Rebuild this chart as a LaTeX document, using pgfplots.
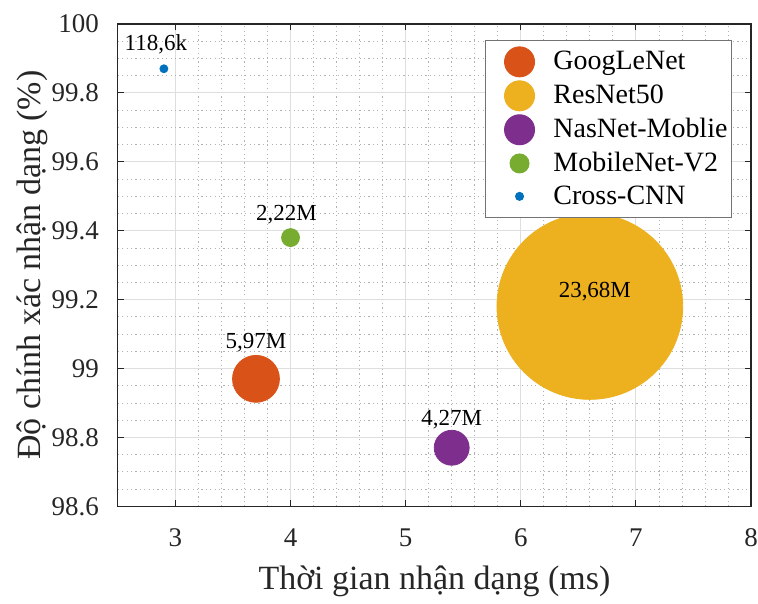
\documentclass[border=0pt]{standalone}
\usepackage{pgfplots}
\pgfplotsset{compat=1.18}
\usepackage{fontspec}
\setmainfont{Liberation Serif}

\definecolor{cGoog}{RGB}{217,83,25}
\definecolor{cRes}{RGB}{237,177,32}
\definecolor{cNas}{RGB}{126,47,142}
\definecolor{cMob}{RGB}{119,172,48}
\definecolor{cCross}{RGB}{0,114,189}
\definecolor{axgray}{RGB}{38,38,38}

\pgfplotsset{
    bubble/.style={
        only marks, mark=*, mark size=#1,
        point meta=explicit symbolic,
        nodes near coords,
    },
    bubble label/.style 2 args={
        every node near coord/.style={
            anchor=base, xshift=#1, yshift=#2,
            font=\fontsize{11.5}{13}\selectfont, text=black, inner sep=0pt
        }
    },
    % legend marker: fixed-width cell so all texts line up
    legdot/.style 2 args={
        legend image code/.code={
            \path[draw=none, fill=none] (0pt,0pt) -- (32pt,0pt);
            \fill[#1] (17pt,0pt) circle (#2);
        }
    },
}

\begin{document}
\begin{tikzpicture}
\begin{axis}[
    width=317pt, height=241.5pt, scale only axis,
    xmin=2.5, xmax=8, ymin=98.6, ymax=100,
    xtick={3,4,5,6,7,8},
    ytick={98.6,98.8,99,99.2,99.4,99.6,99.8,100},
    minor x tick num=4, minor y tick num=3,
    grid=both,
    major grid style={draw=black!13, line width=0.5pt},
    minor grid style={draw=black!30, line width=0.4pt, dash pattern=on 0.6pt off 1.6pt},
    tick align=inside, major tick length=3pt, minor tick length=0pt,
    axis line style={draw=axgray, line width=0.6pt},
    tick style={draw=axgray, line width=0.6pt},
    /pgf/number format/assume math mode=true,
    ticklabel style={font=\fontsize{13.5}{15}\selectfont, text=axgray},
    xticklabel style={inner xsep=0pt, yshift=-7.5pt},
    yticklabel style={xshift=-6pt, /pgf/number format/fixed, /pgf/number format/precision=1},
    xlabel={Thời gian nhận dạng (ms)},
    ylabel={Độ chính xác nhận dạng (\%)},
    label style={font=\fontsize{17}{19}\selectfont, text=axgray},
    xlabel style={yshift=-3pt},
    ylabel shift=-5pt,
    legend cell align=left,
    legend style={
        at={(0.58,0.967)}, anchor=north west,
        draw=black!55, line width=0.5pt,
        font=\fontsize{14}{16}\selectfont,
        inner xsep=0pt, inner ysep=3pt,
        row sep=1.5pt,
    },
]
% GoogLeNet
\addplot[bubble=11.75pt, color=cGoog, mark options={draw=none, fill=cGoog},
    bubble label={0pt}{15pt}, legdot={cGoog}{7.5pt}]
    coordinates {(3.7,98.97) [5,97M]};
% ResNet50
\addplot[bubble=46.5pt, color=cRes, mark options={draw=none, fill=cRes},
    bubble label={2.5pt}{4.75pt}, legdot={cRes}{7.5pt}]
    coordinates {(6.6,99.18) [23,68M]};
% NasNet-Moblie
\addplot[bubble=8.75pt, color=cNas, mark options={draw=none, fill=cNas},
    bubble label={0pt}{11pt}, legdot={cNas}{7.5pt}]
    coordinates {(5.4,98.77) [4,27M]};
% MobileNet-V2
\addplot[bubble=4.5pt, color=cMob, mark options={draw=none, fill=cMob},
    bubble label={-2pt}{8.5pt}, legdot={cMob}{4.75pt}]
    coordinates {(4.0,99.38) [2,22M]};
% Cross-CNN
\addplot[bubble=2pt, color=cCross, mark options={draw=none, fill=cCross},
    bubble label={-4pt}{9pt}, legdot={cCross}{2pt}]
    coordinates {(2.9,99.87) [118,6k]};
\legend{GoogLeNet, ResNet50, NasNet-Moblie, MobileNet-V2, Cross-CNN}
\coordinate (sw) at (rel axis cs:0,0);
\coordinate (ne) at (rel axis cs:1,1);
\end{axis}
\path ([shift={(-59pt,-45pt)}]sw) rectangle ([shift={(3.5pt,12pt)}]ne);
\end{tikzpicture}
\end{document}
